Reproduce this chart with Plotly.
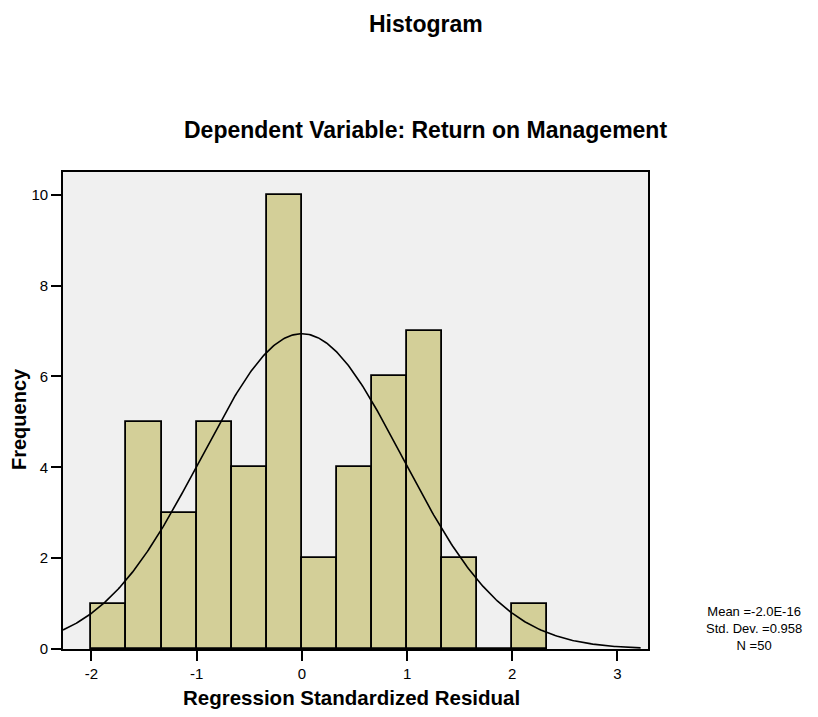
import numpy as np
import plotly.graph_objects as go

# ---- data ----
bin_left = [-2.0, -5/3, -4/3, -1.0, -2/3, -1/3, 0.0, 1/3, 2/3, 1.0, 4/3, 5/3, 2.0]
counts   = [1, 5, 3, 5, 4, 10, 2, 4, 6, 7, 2, 0, 1]
bin_width = 1/3
stat_mean = -2.0e-16
stat_sd = 0.958
stat_n = 50
x_ticks = [-2, -1, 0, 1, 2, 3]
y_ticks = [0, 2, 4, 6, 8, 10]
curve_range = [-2.27, 3.22]

centers = [b + bin_width / 2 for b in bin_left]

# fitted normal curve (SPSS overlay) from reported mean / sd / N
xc = np.linspace(curve_range[0], curve_range[1], 400)
yc = stat_n * bin_width / (stat_sd * np.sqrt(2 * np.pi)) * np.exp(-0.5 * ((xc - stat_mean) / stat_sd) ** 2)

FONT = "Liberation Sans, Arial, sans-serif"

fig = go.Figure()
fig.add_trace(go.Bar(
    x=centers, y=counts, width=bin_width,
    marker=dict(color="#D3CF98", line=dict(color="black", width=1.8)),
    hoverinfo="skip", showlegend=False,
))
fig.add_trace(go.Scatter(
    x=xc, y=yc, mode="lines", line=dict(color="black", width=1.6),
    hoverinfo="skip", showlegend=False,
))

axis_common = dict(
    showgrid=False, zeroline=False, showline=True, mirror=True,
    linecolor="black", linewidth=1.8, ticks="outside", ticklen=10,
    tickwidth=1.8, tickcolor="black",
    tickfont=dict(family=FONT, size=15, color="black"),
)
fig.update_xaxes(range=[-2.27, 3.29], tickvals=x_ticks, ticktext=[str(v) for v in x_ticks], **axis_common)
fig.update_yaxes(range=[0, 10.5], tickvals=y_ticks, ticktext=[str(v) for v in y_ticks], **axis_common)

# page has an 8px body margin: figure coords = page coords - 8
OFF = 8
W, H = 818 - OFF, 717 - OFF
L, R, T, B = 63 - OFF, 648 - OFF, 172 - OFF, 649 - OFF
ph = B - T
pw = R - L

def px_x(x):
    return (x - OFF - L) / pw

def px_y(y):
    return (B - (y - OFF)) / ph

annotations = [
    dict(text="<b>Histogram</b>", x=px_x(426), y=px_y(24), font=dict(family=FONT, size=23, color="black")),
    dict(text="<b>Dependent Variable: Return on Management</b>", x=px_x(425), y=px_y(130),
         font=dict(family=FONT, size=23, color="black")),
    dict(text="<b>Regression Standardized Residual</b>", x=px_x(351), y=px_y(697),
         font=dict(family=FONT, size=20.5, color="black")),
    dict(text="<b>Frequency</b>", x=px_x(19), y=px_y(419), textangle=-90,
         font=dict(family=FONT, size=20, color="black")),
    dict(text=f"Mean =-2.0E-16<br>Std. Dev. ={stat_sd}<br>N ={stat_n}", x=px_x(754), y=px_y(628),
         align="center", font=dict(family=FONT, size=13, color="black")),
]
for a in annotations:
    a.update(xref="paper", yref="paper", showarrow=False, xanchor="center", yanchor="middle")

fig.update_layout(
    width=W, height=H,
    margin=dict(l=L, r=W - R, t=T, b=H - B),
    paper_bgcolor="white", plot_bgcolor="#F0F0F0",
    bargap=0, annotations=annotations,
    font=dict(family=FONT, color="black"),
)

fig.write_html("out.html")
